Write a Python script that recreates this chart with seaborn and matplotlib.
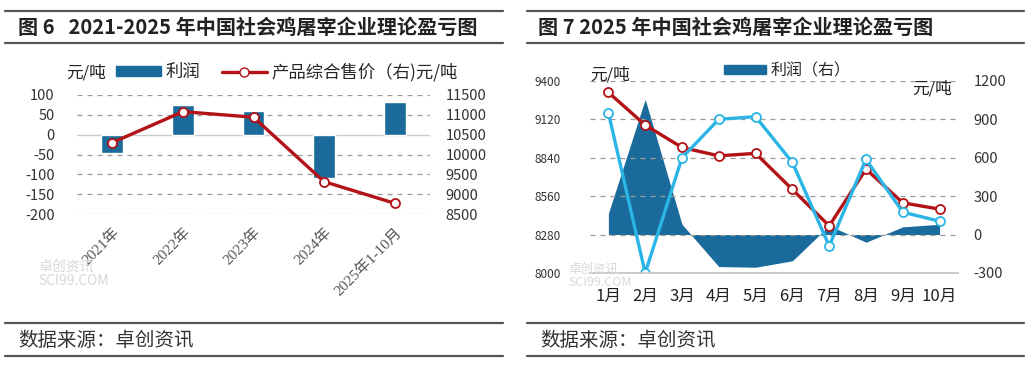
import numpy as np
import pandas as pd
import matplotlib
matplotlib.use("Agg")
import matplotlib.pyplot as plt
from matplotlib.lines import Line2D
from matplotlib.patches import Patch
import seaborn as sns

# ---- data ----
years = ["2021年", "2022年", "2023年", "2024年", "2025年1-10月"]
profit_year = [-45, 75, 60, -110, 82]
price_year = [10300, 11080, 10940, 9315, 8770]

months = ["1月", "2月", "3月", "4月", "5月", "6月", "7月", "8月", "9月", "10月"]
red_month = [9315, 9077, 8914, 8853, 8871, 8608, 8343, 8756, 8511, 8465]
cyan_month = [9167, 8000, 8839, 9119, 9138, 8805, 8197, 8827, 8443, 8377]
profit_month = [165, 1055, 80, -250, -255, -205, 70, -60, 60, 80]

BLUE = "#1a6b9b"
RED = "#b31217"
CYAN = "#2bb5e6"
GRID = "#9a9a9a"

sns.set_theme(style="white")
plt.rcParams["font.family"] = ["Noto Sans CJK SC", "DejaVu Sans"]
plt.rcParams["axes.unicode_minus"] = False

W, H = 1026, 365
fig = plt.figure(figsize=(W / 100, H / 100), dpi=100)


def fx(px):
    return px / W


def fy(py):
    return 1 - py / H


# ---- frame lines, titles, source ----
for xa, xb in [(5, 503), (527, 1024)]:
    for y in (11, 43, 323, 356):
        fig.add_artist(Line2D([fx(xa), fx(xb)], [fy(y), fy(y)], color="#555555", lw=1.6))
    fig.text(fx(xa + 13), fy(340), "数据来源：卓创资讯", fontsize=14, color="#333333",
             va="center", ha="left")

fig.text(fx(18), fy(27), "图 6   2021-2025 年中国社会鸡屠宰企业理论盈亏图", fontsize=14.5,
         fontweight="bold", va="center", ha="left", color="#222222")
fig.text(fx(538), fy(27), "图 7 2025 年中国社会鸡屠宰企业理论盈亏图", fontsize=14.5,
         fontweight="bold", va="center", ha="left", color="#222222")

# ---- chart 6 ----
ax1 = fig.add_axes([fx(77), fy(214), fx(430 - 77), (214 - 95) / H])
df6 = pd.DataFrame({"year": years, "profit": profit_year, "price": price_year})
sns.barplot(data=df6, x="year", y="profit", color=BLUE, width=0.31, saturation=1, ax=ax1)
ax1.set_xlim(-0.5, len(years) - 0.5)
ax1.set_ylim(-200, 100)
ax1.set_yticks(np.arange(-200, 101, 50))
for v in np.arange(-200, 101, 50):
    if v != 0:
        ax1.axhline(v, color=GRID, lw=0.9, ls=(0, (4, 4)), zorder=0)
ax1.axhline(0, color="#cccccc", lw=1, zorder=0)
ax1.set_xlabel("")
ax1.set_ylabel("")
for s in ax1.spines.values():
    s.set_visible(False)
ax1.tick_params(axis="y", labelsize=10.5, length=0, pad=16, colors="#333333")
ax1.set_xticks(range(len(years)))
ax1.set_xticklabels(years, rotation=45, ha="right", rotation_mode="anchor",
                    fontsize=11, color="#555555", family=["Liberation Serif", "Noto Sans CJK SC"])
ax1.tick_params(axis="x", length=0, pad=8)

ax1r = ax1.twinx()
sns.lineplot(x=np.arange(len(years)), y=df6["price"], ax=ax1r, color=RED, lw=2.4,
             marker="o", markersize=6.5, markerfacecolor="white", markeredgecolor=RED,
             markeredgewidth=1.3)
ax1r.set_ylim(8500, 11500)
ax1r.set_yticks(np.arange(8500, 11501, 500))
ax1r.set_ylabel("")
for s in ax1r.spines.values():
    s.set_visible(False)
ax1r.tick_params(axis="y", labelsize=10.5, length=0, pad=11, colors="#333333")

fig.text(fx(66), fy(73), "元/吨", fontsize=12, va="center", ha="left", color="#222222")
h6 = [Patch(facecolor=BLUE, edgecolor=BLUE),
      Line2D([], [], color=RED, lw=2.4, marker="o", markersize=6.5,
             markerfacecolor="white", markeredgecolor=RED)]
fig.legend(h6, ["利润", "产品综合售价（右)元/吨"], loc="center left",
           bbox_to_anchor=(fx(100), fy(72)), ncol=2, frameon=False, fontsize=12.5,
           handlelength=2.6, handleheight=0.5, columnspacing=1.2, handletextpad=0.3)

fig.text(fx(38), fy(274), "卓创资讯\nSCI99.COM", fontsize=10, color="#d8d8d8",
         va="center", ha="left", linespacing=1.0)

# ---- chart 7 ----
ax2 = fig.add_axes([fx(590), fy(273), fx(958 - 590), (273 - 80.7) / H])
ax2r = ax2.twinx()
x7 = np.arange(len(months))
ax2r.fill_between(x7, 0, profit_month, color=BLUE, lw=0, zorder=1)
ax2r.set_ylim(-300, 1200)
ax2r.set_yticks(np.arange(-300, 1201, 300))

df7 = pd.DataFrame({"pos": x7, "red": red_month, "cyan": cyan_month})
ax2.set_zorder(ax2r.get_zorder() + 1)
ax2.patch.set_visible(False)
sns.lineplot(data=df7, x="pos", y="red", ax=ax2, color=RED, lw=2.4, marker="o",
             markersize=6.5, markerfacecolor="white", markeredgecolor=RED,
             markeredgewidth=1.3)
sns.lineplot(data=df7, x="pos", y="cyan", ax=ax2, color=CYAN, lw=2.4, marker="o",
             markersize=6.5, markerfacecolor="white", markeredgecolor=CYAN,
             markeredgewidth=1.3)
ax2.set_xlim(-0.5, len(months) - 0.5)
ax2.set_ylim(8000, 9400)
ax2.set_yticks(np.arange(8000, 9401, 280))
for v in np.arange(8280, 9401, 280):
    ax2.axhline(v, color=GRID, lw=0.9, ls=(0, (4, 4)), zorder=0)
ax2.set_xlabel("")
ax2.set_ylabel("")
ax2r.set_ylabel("")
for a in (ax2, ax2r):
    for k, s in a.spines.items():
        s.set_visible(k == "bottom")
        s.set_color("#cccccc")
ax2.set_xticks(x7)
ax2.set_xticklabels(months, fontsize=12, color="#222222")
ax2.set_xticks(np.arange(-0.5, len(months)), minor=True)
ax2.tick_params(axis="x", which="major", length=0, pad=11)
ax2.tick_params(axis="x", which="minor", length=4, color="#cccccc", direction="out")
ax2.tick_params(axis="y", labelsize=8.5, length=0, pad=21, colors="#333333")
ax2r.tick_params(axis="y", labelsize=10.5, length=0, pad=11, colors="#333333")

fig.text(fx(590), fy(75), "元/吨", fontsize=12, va="center", ha="left", color="#222222")
fig.text(fx(912), fy(89), "元/吨", fontsize=12, va="center", ha="left", color="#222222")
fig.legend([Patch(facecolor=BLUE, edgecolor=BLUE)], ["利润（右）"], loc="center left",
           bbox_to_anchor=(fx(710), fy(71)), frameon=False, fontsize=11.5,
           handlelength=2.6, handleheight=0.5, handletextpad=0.3)

fig.text(fx(568), fy(276), "卓创资讯\nSCI99.COM", fontsize=9, color="#d8d8d8",
         va="center", ha="left", linespacing=1.0)

fig.savefig("out.png", dpi=100)
